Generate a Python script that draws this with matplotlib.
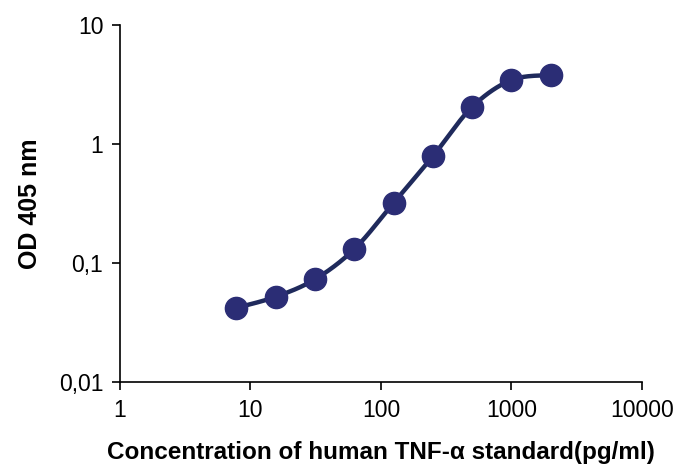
import numpy as np
import matplotlib.pyplot as plt
from matplotlib.ticker import FixedLocator, FuncFormatter, NullLocator

# Datos
concentracion = [7.8, 15.6, 31.25, 62.5, 125, 250, 500, 1000, 2000]
od405 = [0.042, 0.052, 0.073, 0.131, 0.32, 0.79, 2.05, 3.45, 3.8]

x_ticks = [1, 10, 100, 1000, 10000]
y_ticks = [0.01, 0.1, 1, 10]
y_labels = ['0,01', '0,1', '1', '10']


def suavizar(x, y, n=30):
    # curva tipo Catmull-Rom en espacio log (linea suavizada estilo Excel)
    lx, ly = np.log10(x), np.log10(y)
    px = np.concatenate([[lx[0]], lx, [lx[-1]]])
    py = np.concatenate([[ly[0]], ly, [ly[-1]]])
    xs, ys = [], []
    for i in range(1, len(px) - 2):
        t = np.linspace(0, 1, n)
        for p, out in ((px, xs), (py, ys)):
            p0, p1, p2, p3 = p[i - 1], p[i], p[i + 1], p[i + 2]
            out.extend(0.5 * ((2 * p1) + (-p0 + p2) * t
                              + (2 * p0 - 5 * p1 + 4 * p2 - p3) * t ** 2
                              + (-p0 + 3 * p1 - 3 * p2 + p3) * t ** 3))
    return 10 ** np.array(xs), 10 ** np.array(ys)


plt.rcParams['font.family'] = ['Liberation Sans', 'DejaVu Sans']

fig = plt.figure(figsize=(6.79, 4.68), dpi=100)
ax = fig.add_axes([0.1767, 0.1838, 0.7688, 0.7628])

sx, sy = suavizar(concentracion, od405)
ax.plot(sx, sy, color='#1f2a5c', linewidth=3.2, solid_capstyle='round', zorder=2)
ax.plot(concentracion, od405, 'o', color='#2b2d75', markersize=16, zorder=3)

ax.set_xscale('log')
ax.set_yscale('log')
ax.set_xlim(1, 10000)
ax.set_ylim(0.01, 10)

ax.xaxis.set_major_locator(FixedLocator(x_ticks))
ax.xaxis.set_major_formatter(FuncFormatter(lambda v, p: f'{v:g}'))
ax.xaxis.set_minor_locator(NullLocator())
ax.yaxis.set_major_locator(FixedLocator(y_ticks))
ax.yaxis.set_major_formatter(FuncFormatter(lambda v, p: y_labels[p] if p is not None and p < len(y_labels) else ''))
ax.yaxis.set_minor_locator(NullLocator())

ax.spines['top'].set_visible(False)
ax.spines['right'].set_visible(False)
for s in ('left', 'bottom'):
    ax.spines[s].set_linewidth(1.2)
ax.tick_params(direction='out', length=6, width=1.2, labelsize=16.5, pad=6)

ax.set_xlabel('Concentration of human TNF-α standard(pg/ml)', fontsize=17.5, fontweight='bold', labelpad=14)
ax.set_ylabel('OD 405 nm', fontsize=18, fontweight='bold', labelpad=12)

fig.savefig('out.png', dpi=100)
